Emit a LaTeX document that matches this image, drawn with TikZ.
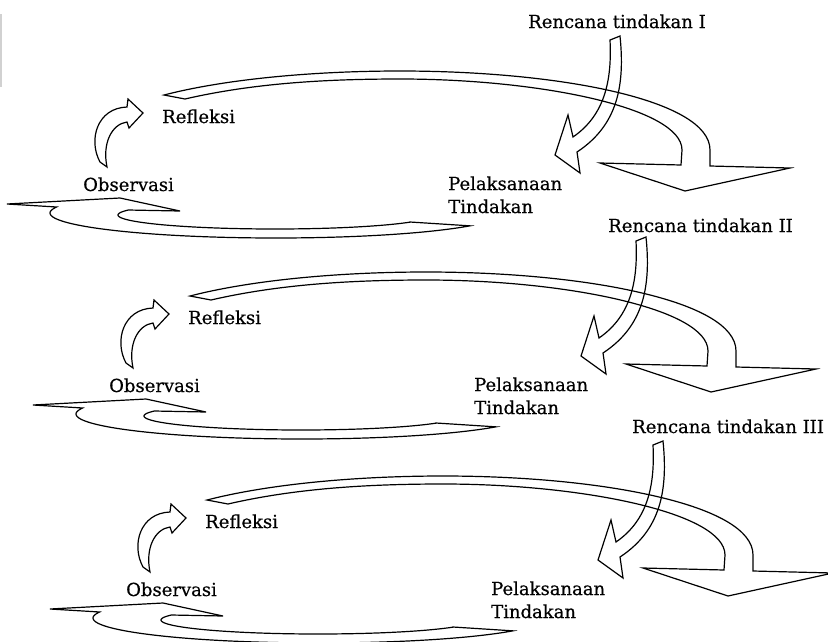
\documentclass[tikz,border=0pt]{standalone}
\usepackage{fontspec}
\setmainfont[FakeBold=0.5]{DejaVu Serif}
\begin{document}
\begin{tikzpicture}[x=1pt,y=-1pt,
  blockarrow/.style={draw=black, line width=1.2pt, line join=miter, fill=none},
  lbl/.style={anchor=base west, inner sep=0pt, align=left, font=\fontsize{18}{23}\selectfont}]
\useasboundingbox (0,0) rectangle (828,641);
\clip (0,0) rectangle (828,641);

% faint rule at the left margin
\draw[black!18, line width=2pt] (1,14) -- (1,87);

\foreach \i/\dx/\dy/\px/\py/\num in {1/0/0/528/28/I, 2/26/201/608/232/II, 3/43/405/632/433/III}{
  \node[lbl] (plan\i) at (\px,\py) {Rencana tindakan \num};
  \begin{scope}[shift={(\dx,\dy)}]
    \node[lbl] (refl\i) at (162,123) {Refleksi};
    \node[lbl] (obs\i)  at (83,191)  {Observasi};
    \node[lbl] (act\i)  at (448,190) {Pelaksanaan};
    \node[lbl] (actb\i) at (448,213) {Tindakan};

    % plan arrow, bending down into the action
    \draw[blockarrow] (610,40) .. controls (612,80) and (605,115) .. (573,137)
      -- (568,115) -- (555,155) -- (580,173) -- (577,152)
      .. controls (618,125) and (625,85) .. (620,36) -- cycle;

    % upper sweep: from reflection over to the next plan
    \draw[blockarrow] (164,95) .. controls (230,78) and (320,71) .. (400,71)
      .. controls (560,71) and (710,100) .. (710,150) -- (710,166)
      -- (790,168) -- (685,191) -- (600,163) -- (681,165) -- (682,150)
      .. controls (682,108) and (540,79) .. (400,79)
      .. controls (320,79) and (250,84) .. (185,99) -- cycle;

    % lower sweep: from the action back to observation
    \draw[blockarrow] (410,222)
      -- plot[domain=30.7:200.9, samples=90] ({275+157*cos(\x)},{215+14*sin(\x)})
      -- (180,211) -- (120,198) -- (7,204)
      -- plot[domain=193.9:30.9, samples=90] ({276+226*cos(\x)},{213+25*sin(\x)})
      -- cycle;

    % small turn from observation up to reflection
    \draw[blockarrow] (127,107) -- (128,99) -- (143,113) -- (129,128) -- (127,122)
      .. controls (112,124) and (102,143) .. (107,167) -- (100,162)
      .. controls (88,140) and (97,108) .. (127,107) -- cycle;
  \end{scope}
}
\end{tikzpicture}
\end{document}
